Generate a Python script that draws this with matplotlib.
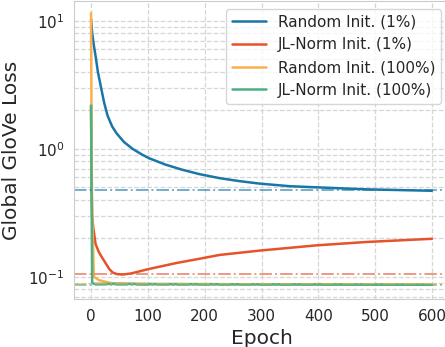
import matplotlib
matplotlib.use("Agg")
import matplotlib.pyplot as plt
import seaborn as sns

# values (loss vs epoch, log scale)
rand1_ep = [0, 2, 5, 8, 12, 17, 23, 29, 37, 45, 58, 73, 90, 102, 130, 161, 190, 226,
            260, 296, 350, 397, 485, 600]
rand1_loss = [10.3, 8.0, 6.4, 5.3, 4.0, 3.1, 2.3, 1.82, 1.5, 1.32, 1.13, 1.0, 0.9, 0.845,
              0.755, 0.685, 0.635, 0.59, 0.56, 0.535, 0.51, 0.50, 0.482, 0.47]

jl1_ep = [0, 1, 2, 4, 8, 14, 20, 26, 32, 38, 45, 55, 70, 102, 150, 190, 226, 296, 397, 485, 600]
jl1_loss = [2.18, 0.5, 0.3, 0.24, 0.18, 0.155, 0.14, 0.127, 0.115, 0.108, 0.105, 0.104, 0.106,
            0.115, 0.128, 0.138, 0.148, 0.16, 0.176, 0.187, 0.198]

rand100_ep = [0, 1, 2, 5, 14, 36, 100, 600]
rand100_loss = [11.5, 1.0, 0.3, 0.1, 0.094, 0.089, 0.0875, 0.087]

jl100_ep = [0, 1, 2, 5, 600]
jl100_loss = [2.18, 0.4, 0.09, 0.088, 0.0865]

labels = ["Random Init. (1%)", "JL-Norm Init. (1%)", "Random Init. (100%)", "JL-Norm Init. (100%)"]
colors = ["#1877a6", "#e5532b", "#fbb04f", "#4cb082"]
asymptotes = [0.473, 0.106, 0.087, 0.0865]

sns.set_style("whitegrid", {"grid.linestyle": "--"})
plt.rcParams["font.family"] = ["DejaVu Sans"]

fig = plt.figure(figsize=(4.45, 3.47), dpi=100)
ax = fig.add_axes([74 / 445, 48 / 347, 375 / 445, 298 / 347])

series = [(rand1_ep, rand1_loss), (jl1_ep, jl1_loss), (rand100_ep, rand100_loss), (jl100_ep, jl100_loss)]
for (ep, loss), lab, c in zip(series, labels, colors):
    ax.plot(ep, loss, color=c, lw=1.8, label=lab)
for a, c in zip(asymptotes, colors):
    ax.axhline(a, color=c, lw=1.4, ls="-.", alpha=0.6)

ax.set_yscale("log")
ax.set_xlim(-30, 630)
ax.set_ylim(0.067, 14.3)
ax.grid(True, which="both", ls="--", color="#d6d6d6", lw=0.9)
ax.tick_params(labelsize=11)
ax.set_xlabel("Epoch", fontsize=14.5)
ax.set_ylabel("Global GloVe Loss", fontsize=14.5)
ax.yaxis.set_label_coords(-0.14, 0.5)
ax.legend(loc="upper right", fontsize=11, frameon=True, handlelength=2.2)

fig.savefig("out.png", dpi=100)
